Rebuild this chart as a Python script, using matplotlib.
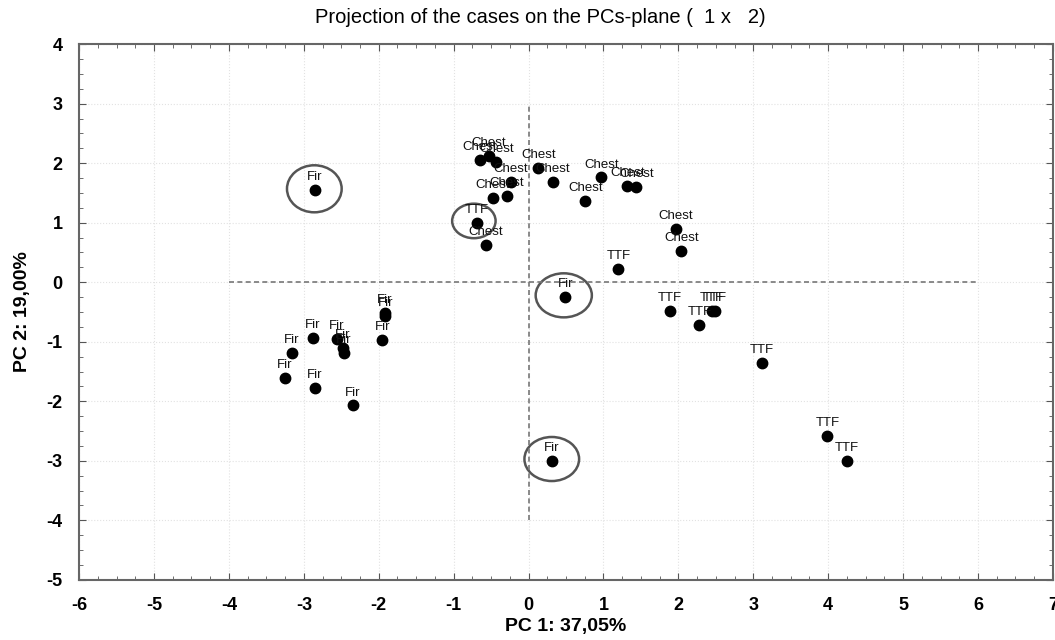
import matplotlib.pyplot as plt
from matplotlib.patches import Ellipse
from matplotlib.ticker import MultipleLocator

plt.rcParams['font.family'] = ['Liberation Sans', 'DejaVu Sans']
plt.rcParams['axes.unicode_minus'] = False

# PCA scores (PC1, PC2) per case
chest_x = [-0.65, -0.53, -0.43, 0.13, 0.32, 0.97, 1.32, 1.44, 0.76, -0.24, -0.48, -0.29, -0.57, 1.97, 2.04]
chest_y = [2.05, 2.12, 2.02, 1.92, 1.68, 1.76, 1.61, 1.60, 1.36, 1.68, 1.41, 1.45, 0.62, 0.89, 0.52]

ttf_x = [-0.69, 1.20, 1.89, 2.28, 2.45, 2.49, 3.12, 3.99, 4.25]
ttf_y = [0.99, 0.22, -0.49, -0.72, -0.49, -0.49, -1.36, -2.59, -3.01]

fir_x = [-2.85, 0.49, 0.31, -1.92, -1.91, -1.95, -2.88, -2.56, -2.48, -2.47, -3.16, -3.25, -2.85, -2.35]
fir_y = [1.55, -0.24, -3.0, -0.52, -0.57, -0.97, -0.94, -0.96, -1.11, -1.19, -1.19, -1.61, -1.78, -2.07]

# highlighted cases: centre x, centre y, width, height
circle_x = [-2.86, -0.73, 0.47, 0.31]
circle_y = [1.57, 1.03, -0.22, -2.97]
circle_w = [0.73, 0.58, 0.75, 0.73]
circle_h = [0.79, 0.58, 0.74, 0.74]

groups = [('Chest', chest_x, chest_y), ('TTF', ttf_x, ttf_y), ('Fir', fir_x, fir_y)]

fig = plt.figure(figsize=(10.55, 6.4), dpi=100)
ax = fig.add_axes([0.075, 0.094, 0.923, 0.837])

ax.set_xlim(-6, 7)
ax.set_ylim(-5, 4)
ax.xaxis.set_major_locator(MultipleLocator(1))
ax.yaxis.set_major_locator(MultipleLocator(1))
ax.xaxis.set_minor_locator(MultipleLocator(0.25))
ax.yaxis.set_minor_locator(MultipleLocator(0.25))
ax.tick_params(which='both', direction='in', top=True, right=True, colors='#555555')
ax.tick_params(which='major', length=5, labelsize=13, labelcolor='black')
ax.tick_params(axis='x', which='major', pad=12)
ax.tick_params(axis='y', which='major', pad=12)
ax.tick_params(which='minor', length=3)
for lab in ax.get_xticklabels() + ax.get_yticklabels():
    lab.set_fontweight('bold')
for sp in ax.spines.values():
    sp.set_color('#666666')
    sp.set_linewidth(1.5)

ax.grid(True, which='major', color='#e2e2e2', linestyle=':', linewidth=0.8)
ax.set_axisbelow(True)

ax.plot([-4, 6], [0, 0], color='#777777', linestyle=(0, (3, 2)), linewidth=1.2)
ax.plot([0, 0], [-4, 3], color='#777777', linestyle=(0, (3, 2)), linewidth=1.2)

for name, xs, ys in groups:
    ax.plot(xs, ys, 'o', color='black', markersize=7.5, linestyle='none')
    for x, y in zip(xs, ys):
        ax.annotate(name, (x, y), xytext=(0, 5), textcoords='offset points',
                    ha='center', va='bottom', fontsize=9.5, color='#111111')

for cx, cy, w, h in zip(circle_x, circle_y, circle_w, circle_h):
    ax.add_patch(Ellipse((cx, cy), w, h, fill=False, edgecolor='#555555', linewidth=1.8))

fig.text(0.512, 0.973, 'Projection of the cases on the PCs-plane (  1 x   2)',
         fontsize=14.5, ha='center', va='center')
ax.set_xlabel('PC 1: 37,05%', fontsize=14, fontweight='bold', labelpad=3)
ax.set_ylabel('PC 2: 19,00%', fontsize=14, fontweight='bold', labelpad=11)

fig.savefig('out.png', dpi=100)
